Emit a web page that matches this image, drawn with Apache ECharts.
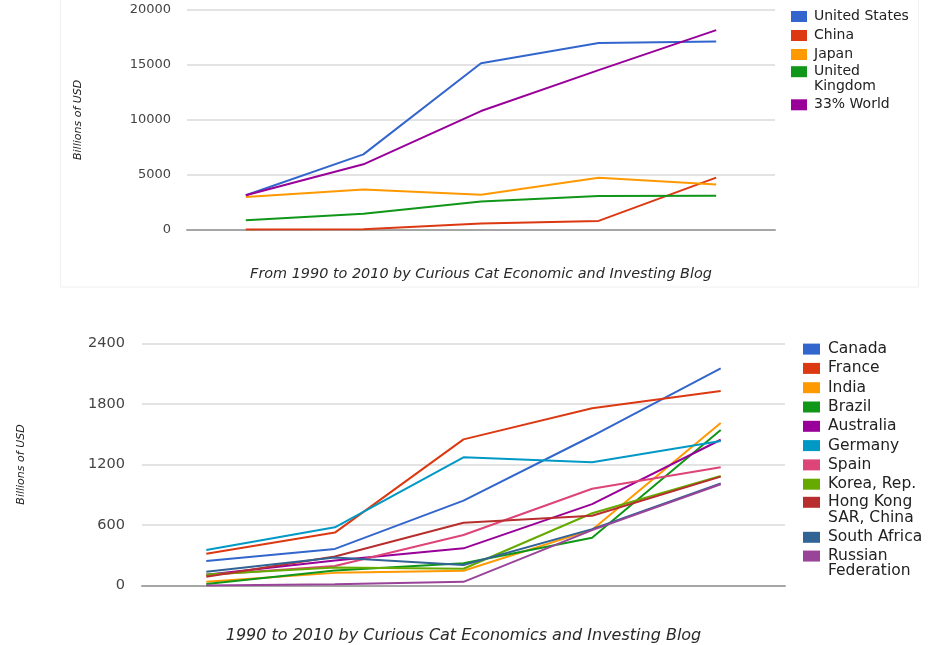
<!DOCTYPE html>
<html>
<head>
<meta charset="utf-8">
<script src="https://cdn.jsdelivr.net/npm/echarts@6/dist/echarts.min.js"></script>
<style>
  html, body { margin: 0; padding: 0; background: #ffffff; }
  #chart { width: 930px; height: 645px; }
</style>
</head>
<body>
<div id="chart"></div>
<script>
// Categories shared by both panels
const years = ['1990', '1995', '2000', '2005', '2010'];

// Upper panel, billions of USD
const unitedStates = [3130, 6860, 15150, 17000, 17140];
const china = [20, 40, 560, 800, 4740];
const japan = [2980, 3670, 3180, 4730, 4120];
const unitedKingdom = [860, 1450, 2560, 3070, 3100];
const worldThird = [3130, 5950, 10800, 14530, 18170];
const upperTicks = { min: 0, max: 20000, step: 5000 };

// Lower panel, billions of USD
const canada = [245, 364, 842, 1482, 2152];
const france = [316, 526, 1449, 1756, 1927];
const india = [40, 127, 148, 555, 1610];
const brazil = [18, 150, 222, 475, 1541];
const australia = [108, 250, 370, 808, 1445];
const germany = [353, 578, 1271, 1222, 1432];
const spain = [105, 195, 502, 960, 1172];
const korea = [110, 180, 168, 717, 1086];
const hongKong = [88, 290, 624, 693, 1080];
const southAfrica = [139, 280, 205, 560, 1012];
const russia = [2, 15, 38, 550, 1005];
const lowerTicks = { min: 0, max: 2400, step: 600 };

const FONT = '"DejaVu Sans", sans-serif';

const upperSeries = [
  { name: 'United States', color: '#3366cc', data: unitedStates },
  { name: 'China', color: '#dc3912', data: china },
  { name: 'Japan', color: '#ff9900', data: japan },
  { name: 'United Kingdom', color: '#109618', data: unitedKingdom },
  { name: '33% World', color: '#990099', data: worldThird }
];
const lowerSeries = [
  { name: 'Canada', color: '#3366cc', data: canada },
  { name: 'France', color: '#dc3912', data: france },
  { name: 'India', color: '#ff9900', data: india },
  { name: 'Brazil', color: '#109618', data: brazil },
  { name: 'Australia', color: '#990099', data: australia },
  { name: 'Germany', color: '#0099c6', data: germany },
  { name: 'Spain', color: '#dd4477', data: spain },
  { name: 'Korea, Rep.', color: '#66aa00', data: korea },
  { name: 'Hong Kong SAR, China', color: '#b82e2e', data: hongKong },
  { name: 'South Africa', color: '#316395', data: southAfrica },
  { name: 'Russian Federation', color: '#994499', data: russia }
];

// Names that wrap onto two lines in the legend. The leading blank line
// keeps the swatch level with the first line of the label.
const wrapped = {
  'United Kingdom': '\nUnited\nKingdom',
  'Hong Kong SAR, China': '\nHong Kong\nSAR, China',
  'Russian Federation': '\nRussian\nFederation'
};

function toSeries(list, axisIndex) {
  return list.map(s => ({
    name: s.name,
    type: 'line',
    xAxisIndex: axisIndex,
    yAxisIndex: axisIndex,
    data: s.data,
    showSymbol: false,
    symbol: 'none',
    smooth: false,
    lineStyle: { width: 2, color: s.color },
    itemStyle: { color: s.color },
    emphasis: { disabled: true },
    animation: false
  }));
}

// One legend block
function legendBlock(names, left, top, opts) {
  const twoLine = names.length === 1 && wrapped[names[0]];
  return {
    orient: 'vertical',
    left: left,
    top: top,
    padding: 0,
    data: names,
    icon: 'rect',
    itemWidth: opts.itemWidth,
    itemHeight: 11,
    itemGap: opts.itemGap,
    selectedMode: false,
    formatter: name => wrapped[name] || name,
    textStyle: {
      fontFamily: FONT, fontSize: opts.fontSize, color: '#222',
      lineHeight: twoLine ? opts.lineHeight : 11,
      padding: [0, 0, 0, opts.textPad]
    }
  };
}

function valueAxis(grid, ticks, fontSize, margin, nameGap) {
  return {
    type: 'value',
    gridIndex: grid,
    min: ticks.min,
    max: ticks.max,
    interval: ticks.step,
    name: 'Billions of USD',
    nameLocation: 'middle',
    nameRotate: 90,
    nameGap: nameGap,
    nameTextStyle: { fontFamily: FONT, fontSize: 11, fontStyle: 'italic', color: '#222' },
    axisLine: { show: false },
    axisTick: { show: false },
    axisLabel: {
      fontFamily: FONT, fontSize: fontSize, color: '#444', margin: margin,
      formatter: v => String(v)
    },
    splitLine: { lineStyle: { color: '#dadada', width: 1.5 } }
  };
}

function categoryAxis(grid, caption, fontSize, nameGap) {
  return {
    type: 'category',
    gridIndex: grid,
    data: years,
    boundaryGap: true,
    name: caption,
    nameLocation: 'middle',
    nameGap: nameGap,
    nameTextStyle: { fontFamily: FONT, fontSize: fontSize, fontStyle: 'italic', color: '#2a2a2a' },
    axisLine: { show: true, lineStyle: { color: '#a6a6a6', width: 2 } },
    axisTick: { show: false },
    axisLabel: { show: false },
    splitLine: { show: false }
  };
}

const upperLegend = { itemWidth: 16, itemGap: 5, fontSize: 14, textPad: 2, lineHeight: 15 };
const lowerLegend = { itemWidth: 17, itemGap: 3.3, fontSize: 15.5, textPad: 3, lineHeight: 15.3 };

const option = {
  backgroundColor: '#ffffff',
  animation: false,
  grid: [
    { left: 187, top: 10, width: 588, height: 219.7 },
    { left: 142, top: 343.3, width: 643, height: 242.4 }
  ],
  xAxis: [
    categoryAxis(0, 'From 1990 to 2010 by Curious Cat Economic and Investing Blog', 14.4, 38),
    categoryAxis(1, '1990 to 2010 by Curious Cat Economics and Investing Blog', 16, 42)
  ],
  yAxis: [
    valueAxis(0, upperTicks, 13, 16, 103),
    valueAxis(1, lowerTicks, 14.5, 17, 115)
  ],
  legend: [
    legendBlock(['United States', 'China', 'Japan'], 791, 9.5, upperLegend),
    legendBlock(['United Kingdom'], 791, 49.2, upperLegend),
    legendBlock(['33% World'], 791, 97.8, upperLegend),
    legendBlock(['Canada', 'France', 'India', 'Brazil', 'Australia', 'Germany', 'Spain', 'Korea, Rep.'], 803, 341.1, lowerLegend),
    legendBlock(['Hong Kong SAR, China'], 803, 479, lowerLegend),
    legendBlock(['South Africa'], 803, 529.3, lowerLegend),
    legendBlock(['Russian Federation'], 803, 532.75, lowerLegend)
  ],
  graphic: [
    {
      type: 'rect',
      silent: true,
      z: -1,
      shape: { x: 60.5, y: -2, width: 858, height: 289 },
      style: { fill: 'none', stroke: '#f0f0f0', lineWidth: 1 }
    }
  ],
  series: toSeries(upperSeries, 0).concat(toSeries(lowerSeries, 1))
};

const chart = echarts.init(document.getElementById('chart'), null, { renderer: 'canvas' });
chart.setOption(option);
</script>
</body>
</html>
